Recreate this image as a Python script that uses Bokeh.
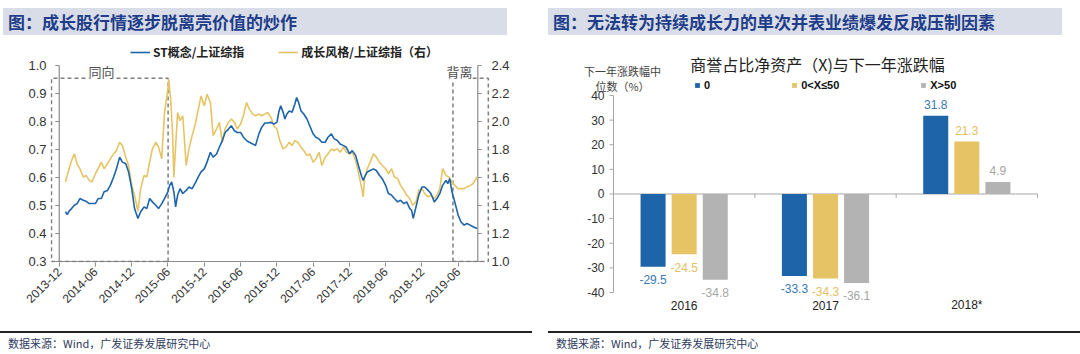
import math
import calendar
from datetime import datetime, timedelta
from bokeh.plotting import figure
from bokeh.models import (Range1d, LinearAxis, FixedTicker, DatetimeTickFormatter, NumeralTickFormatter,
                          Label, Legend, LegendItem, Div, ColumnDataSource)
from bokeh.layouts import row, column
from bokeh.embed import file_html
from bokeh.resources import INLINE
from bokeh.core.properties import value

# ---------------- data: left chart ----------------
st_dates = [
    "2014-01-01", "2014-01-10", "2014-01-20", "2014-02-01", "2014-02-15", "2014-03-01", "2014-03-15",
    "2014-04-01", "2014-04-15", "2014-05-01", "2014-05-15", "2014-06-01", "2014-06-15", "2014-07-01",
    "2014-07-15", "2014-08-01", "2014-08-15", "2014-09-01", "2014-09-15", "2014-10-01", "2014-10-15",
    "2014-11-01", "2014-11-15", "2014-12-01", "2014-12-15", "2015-01-01", "2015-01-15", "2015-02-01",
    "2015-02-15", "2015-03-01", "2015-03-15", "2015-04-01", "2015-04-15", "2015-05-01", "2015-05-15",
    "2015-06-01", "2015-06-10", "2015-06-20", "2015-07-01", "2015-07-10", "2015-07-20", "2015-08-01",
    "2015-08-15", "2015-09-01", "2015-09-15", "2015-10-01", "2015-10-15", "2015-11-01", "2015-11-15",
    "2015-12-01", "2015-12-15", "2016-01-01", "2016-01-15", "2016-02-01", "2016-02-15", "2016-03-01",
    "2016-03-15", "2016-04-01", "2016-04-15", "2016-05-01", "2016-05-15", "2016-06-01", "2016-06-15",
    "2016-07-01", "2016-07-15", "2016-08-01", "2016-08-15", "2016-09-01", "2016-09-15", "2016-10-01",
    "2016-10-15", "2016-11-01", "2016-11-15", "2016-12-01", "2016-12-10", "2016-12-20", "2017-01-01",
    "2017-01-10", "2017-01-20", "2017-02-01", "2017-02-15", "2017-03-01", "2017-03-10", "2017-03-20",
    "2017-04-01", "2017-04-15", "2017-05-01", "2017-05-15", "2017-06-01", "2017-06-15", "2017-07-01",
    "2017-07-15", "2017-08-01", "2017-08-15", "2017-09-01", "2017-09-15", "2017-10-01", "2017-10-15",
    "2017-11-01", "2017-11-15", "2017-12-01", "2017-12-15", "2018-01-01", "2018-01-15", "2018-02-01",
    "2018-02-08", "2018-02-15", "2018-03-01", "2018-03-15", "2018-04-01", "2018-04-15", "2018-05-01",
    "2018-05-15", "2018-06-01", "2018-06-15", "2018-07-01", "2018-07-15", "2018-08-01", "2018-08-15",
    "2018-09-01", "2018-09-15", "2018-10-01", "2018-10-10", "2018-10-18", "2018-11-01", "2018-11-15",
    "2018-12-01", "2018-12-15", "2019-01-01", "2019-01-15", "2019-02-01", "2019-02-15", "2019-03-01",
    "2019-03-15", "2019-04-01", "2019-04-10", "2019-04-20", "2019-05-01", "2019-05-15", "2019-06-01",
    "2019-06-15", "2019-07-01", "2019-07-15", "2019-08-01", "2019-08-15", "2019-09-04",
]
st_values = [
    0.478, 0.468, 0.480, 0.489, 0.501, 0.507, 0.525,
    0.519, 0.515, 0.507, 0.507, 0.507, 0.525, 0.525,
    0.549, 0.554, 0.572, 0.602, 0.631, 0.673, 0.655,
    0.649, 0.620, 0.560, 0.489, 0.454, 0.478, 0.495,
    0.489, 0.525, 0.513, 0.501, 0.489, 0.507, 0.525,
    0.549, 0.572, 0.584, 0.549, 0.495, 0.537, 0.560,
    0.543, 0.554, 0.566, 0.560, 0.578, 0.602, 0.620,
    0.631, 0.655, 0.690, 0.673, 0.684, 0.708, 0.732,
    0.761, 0.773, 0.785, 0.767, 0.761, 0.761, 0.744,
    0.732, 0.726, 0.720, 0.714, 0.756, 0.779, 0.795,
    0.795, 0.797, 0.791, 0.797, 0.833, 0.856, 0.833,
    0.809, 0.827, 0.838, 0.833, 0.862, 0.886, 0.868,
    0.838, 0.827, 0.809, 0.785, 0.756, 0.744, 0.738,
    0.726, 0.726, 0.744, 0.756, 0.738, 0.732, 0.720,
    0.714, 0.708, 0.685, 0.696, 0.679, 0.643, 0.602,
    0.590, 0.602, 0.620, 0.625, 0.631, 0.625, 0.608,
    0.596, 0.572, 0.543, 0.537, 0.525, 0.513, 0.519,
    0.507, 0.513, 0.489, 0.483, 0.454, 0.495, 0.537,
    0.566, 0.566, 0.554, 0.543, 0.513, 0.525, 0.543,
    0.572, 0.590, 0.578, 0.596, 0.549, 0.513, 0.466,
    0.442, 0.430, 0.436, 0.430, 0.424, 0.418,
]
growth_dates = [
    "2014-01-01", "2014-01-15", "2014-02-01", "2014-02-15", "2014-03-01", "2014-03-15", "2014-04-01",
    "2014-04-15", "2014-05-01", "2014-05-15", "2014-06-01", "2014-06-15", "2014-07-01", "2014-07-15",
    "2014-08-01", "2014-08-15", "2014-09-01", "2014-09-15", "2014-10-01", "2014-10-15", "2014-11-01",
    "2014-11-15", "2014-12-01", "2014-12-15", "2015-01-01", "2015-01-15", "2015-02-01", "2015-02-15",
    "2015-03-01", "2015-03-15", "2015-04-01", "2015-04-15", "2015-05-01", "2015-05-15", "2015-06-01",
    "2015-06-05", "2015-06-15", "2015-06-25", "2015-07-01", "2015-07-10", "2015-07-20", "2015-08-01",
    "2015-08-15", "2015-09-01", "2015-09-15", "2015-10-01", "2015-10-15", "2015-11-01", "2015-11-15",
    "2015-12-01", "2015-12-15", "2016-01-01", "2016-01-15", "2016-02-01", "2016-02-15", "2016-03-01",
    "2016-03-15", "2016-04-01", "2016-04-15", "2016-05-01", "2016-05-15", "2016-06-01", "2016-06-15",
    "2016-07-01", "2016-07-15", "2016-08-01", "2016-08-15", "2016-09-01", "2016-09-15", "2016-10-01",
    "2016-10-15", "2016-11-01", "2016-11-15", "2016-12-01", "2016-12-15", "2017-01-01", "2017-01-15",
    "2017-02-01", "2017-02-15", "2017-03-01", "2017-03-15", "2017-04-01", "2017-04-15", "2017-05-01",
    "2017-05-15", "2017-06-01", "2017-06-15", "2017-07-01", "2017-07-15", "2017-08-01", "2017-08-15",
    "2017-09-01", "2017-09-15", "2017-10-01", "2017-10-15", "2017-11-01", "2017-11-15", "2017-12-01",
    "2017-12-15", "2018-01-01", "2018-01-15", "2018-02-01", "2018-02-08", "2018-02-15", "2018-03-01",
    "2018-03-15", "2018-04-01", "2018-04-15", "2018-05-01", "2018-05-15", "2018-06-01", "2018-06-15",
    "2018-07-01", "2018-07-15", "2018-08-01", "2018-08-15", "2018-09-01", "2018-09-15", "2018-10-01",
    "2018-10-15", "2018-11-01", "2018-11-15", "2018-12-01", "2018-12-15", "2019-01-01", "2019-01-15",
    "2019-02-01", "2019-02-15", "2019-03-01", "2019-03-15", "2019-04-01", "2019-04-15", "2019-05-01",
    "2019-05-15", "2019-06-01", "2019-06-15", "2019-07-01", "2019-07-15", "2019-08-01", "2019-08-15",
    "2019-09-04",
]
growth_values = [
    1.568, 1.639, 1.722, 1.769, 1.698, 1.663, 1.604,
    1.615, 1.580, 1.568, 1.627, 1.663, 1.710, 1.663,
    1.698, 1.734, 1.769, 1.793, 1.852, 1.828, 1.746,
    1.686, 1.544, 1.473, 1.360, 1.521, 1.615, 1.604,
    1.710, 1.805, 1.852, 1.817, 1.734, 2.065, 2.231,
    2.302, 2.160, 1.900, 1.600, 1.828, 2.065, 2.006,
    2.041, 1.686, 1.805, 1.900, 1.970, 2.089, 2.183,
    2.112, 2.195, 2.136, 1.900, 1.947, 1.994, 1.852,
    1.947, 1.994, 2.018, 1.994, 1.947, 1.982, 2.041,
    2.136, 2.089, 2.053, 2.041, 2.053, 2.041, 2.053,
    2.065, 2.030, 1.970, 1.947, 1.864, 1.805, 1.817,
    1.852, 1.828, 1.864, 1.852, 1.817, 1.793, 1.757,
    1.769, 1.710, 1.734, 1.781, 1.686, 1.746, 1.769,
    1.805, 1.793, 1.805, 1.781, 1.817, 1.781, 1.769,
    1.781, 1.722, 1.639, 1.521, 1.462, 1.592, 1.663,
    1.710, 1.769, 1.746, 1.710, 1.686, 1.663, 1.627,
    1.663, 1.604, 1.592, 1.544, 1.509, 1.473, 1.450,
    1.402, 1.426, 1.509, 1.521, 1.485, 1.462, 1.473,
    1.450, 1.473, 1.521, 1.663, 1.615, 1.604, 1.568,
    1.544, 1.521, 1.521, 1.521, 1.533, 1.544, 1.556,
    1.604,
]
left_ticks = [0.3, 0.4, 0.5, 0.6, 0.7, 0.8, 0.9, 1.0]
right_ticks = [1.0, 1.2, 1.4, 1.6, 1.8, 2.0, 2.2, 2.4]
x_tick_dates = ["2013-12-01", "2014-06-01", "2014-12-01", "2015-06-01", "2015-12-01", "2016-06-01",
                "2016-12-01", "2017-06-01", "2017-12-01", "2018-06-01", "2018-12-01", "2019-06-01"]

# ---------------- data: right chart ----------------
years = ["2016", "2017", "2018*"]
series_names = ["0", "0<X≤50", "X>50"]
vals_zero = [-29.5, -33.3, 31.8]
vals_mid = [-24.5, -34.3, 21.3]
vals_high = [-34.8, -36.1, 4.9]
bar_ticks = [-40, -30, -20, -10, 0, 10, 20, 30, 40]

BLUE = "#1D64A8"
GOLD = "#E6C466"
GREY = "#B3B3B3"
AX = "#8C8C8C"
AX2 = "#A6A6A6"
CJK = "Noto Sans CJK SC"
LAT = "Liberation Sans"


def dt(s):
    return datetime.strptime(s, "%Y-%m-%d")


def ms(d):
    return calendar.timegm(d.timetuple()) * 1000.0


# ================= left figure =================
p1 = figure(width=540, height=285, x_axis_type="datetime", output_backend="svg", toolbar_location=None,
            x_range=Range1d(dt("2013-10-18"), dt("2019-11-11")), y_range=Range1d(0.2965, 1.0894),
            min_border_left=50, min_border_right=50, min_border_top=0, min_border_bottom=63,
            outline_line_color=None, background_fill_color="white", border_fill_color="white")
p1.grid.visible = False
p1.extra_y_ranges = {"r": Range1d(0.993, 2.579)}
p1.add_layout(LinearAxis(y_range_name="r"), "right")

for ax in p1.yaxis:
    ax.axis_line_color = None
    ax.major_tick_line_color = None
    ax.minor_tick_line_color = None
    ax.major_tick_out = 0
    ax.major_tick_in = 0
    ax.major_label_text_font = LAT
    ax.major_label_text_font_size = "13px"
    ax.major_label_text_color = "#333333"
    ax.formatter = NumeralTickFormatter(format="0.0")
p1.yaxis[0].ticker = FixedTicker(ticks=left_ticks)
p1.yaxis[0].bounds = (0.3, 1.0)
p1.yaxis[0].major_label_standoff = 4
p1.yaxis[1].ticker = FixedTicker(ticks=right_ticks)
p1.yaxis[1].bounds = (1.0, 2.4)
p1.yaxis[1].major_label_standoff = 1

xa = p1.xaxis[0]
xa.ticker = FixedTicker(ticks=[ms(dt(s)) for s in x_tick_dates])
xa.formatter = DatetimeTickFormatter(days="%Y-%m", months="%Y-%m", years="%Y-%m")
xa.axis_line_color = None
xa.major_tick_line_color = AX
xa.minor_tick_line_color = None
xa.major_tick_out = 4
xa.major_tick_in = 0
xa.major_label_orientation = math.pi / 4
xa.major_label_text_font = LAT
xa.major_label_text_font_size = "12px"
xa.major_label_text_color = "#333333"
xa.major_label_standoff = 3

# own axis lines (axes sit inside a slightly wider frame)
ax_left = dt("2013-12-01")
ax_right = dt("2019-09-08")
p1.segment(x0=[ax_left], y0=[0.3], x1=[ax_left], y1=[1.0], line_color=AX, line_width=1.2)
p1.segment(x0=[ax_left - timedelta(days=20)] * len(left_ticks), y0=left_ticks,
           x1=[ax_left] * len(left_ticks), y1=left_ticks, line_color=AX, line_width=1)
p1.segment(x0=[ax_left], y0=[0.3], x1=[ax_right], y1=[0.3], line_color=AX, line_width=1.2)
p1.segment(x0=[ax_right], y0=[1.0], x1=[ax_right], y1=[2.4], line_color=AX, line_width=1.2, y_range_name="r")
p1.segment(x0=[ax_right] * len(right_ticks), y0=right_ticks,
           x1=[ax_right + timedelta(days=20)] * len(right_ticks), y1=right_ticks,
           line_color=AX, line_width=1, y_range_name="r")

# dashed annotation boxes
b1 = [dt("2015-06-02"), dt("2015-06-02"), dt("2013-10-23"), dt("2013-10-23"), dt("2015-06-02")]
p1.line(b1, [0.3, 0.955, 0.955, 0.3, 0.3], line_color="#7F7F7F", line_width=1.5, line_dash="4 3")
b2 = [dt("2019-05-06"), dt("2019-05-06"), dt("2019-10-31"), dt("2019-10-31"), dt("2019-05-06")]
p1.line(b2, [0.3, 0.955, 0.955, 0.3, 0.3], line_color="#7F7F7F", line_width=1.5, line_dash="4 3")

r_gr = p1.line([dt(s) for s in growth_dates], growth_values, line_color=GOLD, line_width=1.6,
               y_range_name="r")
r_st = p1.line([dt(s) for s in st_dates], st_values, line_color=BLUE, line_width=1.6)

for txt, d, yv in [("同向", "2014-07-02", 0.978), ("背离", "2019-06-08", 0.978)]:
    p1.add_layout(Label(x=ms(dt(d)), y=yv, text=txt, text_align="center", text_baseline="middle",
                        text_font=CJK, text_font_size="13px", text_color="#505050",
                        background_fill_color="white"))

# frame bottom sits 222 px above the figure's bottom edge region: legend centred ~12 px below frame top
leg1 = Legend(items=[LegendItem(label="ST概念/上证综指", renderers=[r_st]),
                     LegendItem(label="成长风格/上证综指（右）", renderers=[r_gr])],
              orientation="horizontal", location=(80, 202), glyph_width=20, glyph_height=16,
              label_height=16, label_width=0, label_standoff=3, spacing=34, padding=0, margin=0,
              border_line_color=None, background_fill_alpha=0,
              label_text_font=CJK, label_text_font_size="12px", label_text_font_style="bold",
              label_text_color="#222222")
p1.add_layout(leg1, "center")

# ================= right figure =================
# frame covers the whole chart area; the y axis is drawn inside it
p2 = figure(width=540, height=285, x_range=Range1d(-0.4458, 3.269), y_range=Range1d(-50.56, 60.3),
            x_axis_location=None, y_axis_location=None,
            output_backend="svg", toolbar_location=None,
            min_border_left=10, min_border_right=5, min_border_top=5, min_border_bottom=7,
            outline_line_color=None, background_fill_color="white", border_fill_color="white")
p2.grid.visible = False

nt = len(bar_ticks)
p2.segment(x0=[0], y0=[bar_ticks[0]], x1=[0], y1=[bar_ticks[-1]], line_color=AX2, line_width=1)
p2.segment(x0=[-0.0283] * nt, y0=bar_ticks, x1=[0] * nt, y1=bar_ticks, line_color=AX2, line_width=1)
p2.text(x=[0] * nt, y=bar_ticks, text=[str(t) for t in bar_ticks], x_offset=-9,
        text_align="right", text_baseline="middle", text_font=value(LAT), text_font_size="12px",
        text_color="#333333")

ncat = len(years)
p2.segment(x0=[0], y0=[0], x1=[ncat], y1=[0], line_color=AX2, line_width=1)
p2.segment(x0=list(range(1, ncat + 1)), y0=[0] * ncat, x1=list(range(1, ncat + 1)), y1=[-1.6] * ncat,
           line_color=AX2, line_width=1)
p2.text(x=[i + 0.5 for i in range(ncat)], y=[bar_ticks[0]] * ncat, text=years, y_offset=13,
        text_align="center", text_baseline="middle", text_font=value(LAT), text_font_size="12px",
        text_color="#222222")

offsets = [-0.22, 0.0, 0.22]
colors = [BLUE, GOLD, GREY]
label_colors = ["#3A78B2", "#E3C063", "#A6A6A6"]
renderers = []
lx, ly, lt, lo, lc = [], [], [], [], []
for k, vals in enumerate([vals_zero, vals_mid, vals_high]):
    xs = [i + 0.5 + offsets[k] for i in range(ncat)]
    r = p2.vbar(x=xs, top=vals, bottom=0, width=0.177, fill_color=colors[k], line_color=None)
    renderers.append(r)
    for xv, v in zip(xs, vals):
        lx.append(xv)
        ly.append(v)
        lt.append(f"{v:.1f}")
        lo.append(-11 if v >= 0 else 13)
        lc.append(label_colors[k])

lsrc = ColumnDataSource(dict(x=lx, y=ly, t=lt, o=lo, c=lc))
p2.text(x="x", y="y", text="t", y_offset="o", text_color="c", source=lsrc, text_align="center",
        text_baseline="middle", text_font=value(LAT), text_font_size="12px")

leg2 = Legend(items=[LegendItem(label=n, renderers=[r]) for n, r in zip(series_names, renderers)],
              orientation="horizontal", location=(144, 227), glyph_width=6, glyph_height=6,
              label_height=6, label_width=0, label_standoff=4, spacing=81, padding=0, margin=0,
              border_line_color=None, background_fill_alpha=0,
              label_text_font=LAT, label_text_font_size="11px", label_text_font_style="bold",
              label_text_color="#111111")
p2.add_layout(leg2, "center")

p2.add_layout(Label(x=267, y=255, x_units="screen", y_units="screen", text="商誉占比净资产（X)与下一年涨跌幅",
                    text_align="center", text_baseline="middle", text_font=CJK, text_font_size="16px",
                    text_color="#222222"))
p2.add_layout(Label(x=72, y=248, x_units="screen", y_units="screen", text="下一年涨跌幅中",
                    text_align="center", text_baseline="middle", text_font=CJK, text_font_size="11px",
                    text_color="#444444"))
p2.add_layout(Label(x=72, y=233, x_units="screen", y_units="screen", text="位数（%）",
                    text_align="center", text_baseline="middle", text_font=CJK, text_font_size="11px",
                    text_color="#444444"))


# ================= title bars and footers =================
def title_div(text, left, width):
    html = (f'<div style="position:relative;width:540px;height:40px;">'
            f'<div style="position:absolute;left:{left}px;top:8px;width:{width}px;height:27px;'
            f'background:#D8DDE7;"></div>'
            f'<div style="position:absolute;left:{left + 5}px;top:8px;height:27px;line-height:27px;'
            f'font-family:\'{CJK}\';font-weight:bold;font-size:17px;color:#1F3D8A;white-space:nowrap;">'
            f'{text}</div></div>')
    return Div(text=html, width=540, height=40, margin=0)


def footer_div(left, width):
    html = (f'<div style="position:relative;width:540px;height:29px;">'
            f'<div style="position:absolute;left:{left}px;top:6px;width:{width}px;height:0;'
            f'border-top:2px solid #222222;"></div>'
            f'<div style="position:absolute;left:{left + 8}px;top:11px;font-family:\'{CJK}\';font-size:11px;'
            f'line-height:14px;color:#2E3A5C;white-space:nowrap;">数据来源：Wind，广发证券发展研究中心</div></div>')
    return Div(text=html, width=540, height=29, margin=0)


col1 = column(title_div("图：成长股行情逐步脱离壳价值的炒作", 3, 504), p1, footer_div(0, 532), spacing=0)
col2 = column(title_div("图：无法转为持续成长力的单次并表业绩爆发反成压制因素", 8, 514), p2, footer_div(8, 532),
              spacing=0)
layout = row(col1, col2, spacing=0)

open("out.html", "w").write(file_html(layout, INLINE))
